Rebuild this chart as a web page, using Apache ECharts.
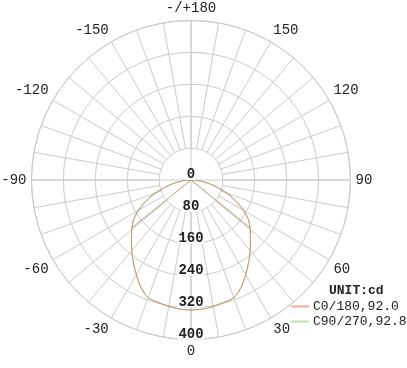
<!DOCTYPE html>
<html><head><meta charset="utf-8">
<script src="https://cdn.jsdelivr.net/npm/echarts@6/dist/echarts.min.js"></script>
<style>html,body{margin:0;padding:0;background:#fff}#c{width:407px;height:368px}</style>
</head><body><div id="c"></div>
<script>
// gamma angles (deg) for each half-plane
const gamma = [0,5,10,15,20,25,30,35,40,45,50,55,60,65,70,75,80,85,90];
// intensities (cd)
const c0  = [326,325,322,318,314,297,274,252,231,211,194,176,150,120,92,62,38,17,0];
const c180= [326,325,322,318,314,297,274,252,231,211,194,176,150,120,92,62,38,17,0];
const c90 = [326,325,322,318,314,297,274,252,231,211,194,177,154,126,98,67,42,20,0];
const c270= [326,325,322,318,314,297,274,252,231,211,194,177,154,126,98,67,42,20,0];
const seriesNames = ['C0/180,92.0','C90/270,92.8'];
const seriesColors = ['#e0705c','#8cc47c'];
const legendColors = ['#f4a9a0','#bfe3b6'];
const beamHalfAngle = 51;
const beamValue = [190, 190];
const radiusTicks = [0,80,160,240,320,400];
const angleLabelStep = 30;

function curve(left, right){
  const pts = [];
  for (let i = gamma.length-1; i >= 0; i--) pts.push([left[i], -gamma[i]]);
  for (let i = 1; i < gamma.length; i++) pts.push([right[i], gamma[i]]);
  return pts;
}
const grid = '#cbcbcb';
const ctr = [191,180];
const R = 159.5;
const inner = R * radiusTicks[1] / radiusTicks[radiusTicks.length-1];

const series = [];
const planes = [[c180,c0],[c270,c90]];
// draw green first, red on top (blend gives the tan overlap colour)
[1,0].forEach(k=>{
  const p = planes[k];
  const op = k===0 ? 0.6 : 0.9;
  series.push({name:seriesNames[k], type:'line', coordinateSystem:'polar', polarIndex:0, smooth:0.3,
    data:curve(p[0],p[1]), showSymbol:false, lineStyle:{width:1,color:seriesColors[k],opacity:op}, itemStyle:{color:seriesColors[k]}, z:3});
  [beamHalfAngle,-beamHalfAngle].forEach(a=>series.push({name:seriesNames[k], type:'line', coordinateSystem:'polar', polarIndex:0,
    data:[[0,a],[beamValue[k],a]], showSymbol:false, lineStyle:{width:1,color:seriesColors[k],opacity:op*0.8}, itemStyle:{color:seriesColors[k]}, z:3}));
});

const chart = echarts.init(document.getElementById('c'));
chart.setOption({
  animation:false,
  backgroundColor:'#fff',
  title:{text:'UNIT:cd', left:329, top:284, padding:0,
    textStyle:{fontFamily:'Liberation Mono', fontSize:13, fontWeight:'bold', color:'#222'}},
  legend:{data:seriesNames.map((n,i)=>({name:n, icon:'rect', itemStyle:{color:legendColors[i], opacity:1}})),
    orient:'vertical', left:291, top:300, itemWidth:18, itemHeight:2, itemGap:2, padding:0,
    textStyle:{fontFamily:'Liberation Mono', fontSize:13, color:'#222', padding:[0,0,0,-1]}},
  polar:[
    {center:ctr, radius:[0,R]},
    {center:ctr, radius:[inner,R]},
    {center:ctr, radius:[0,R]}
  ],
  angleAxis:[
    {polarIndex:0, type:'value', min:-180, max:180, interval:angleLabelStep, startAngle:90, clockwise:false,
      axisLine:{lineStyle:{color:grid,width:1}}, axisTick:{show:false}, splitLine:{show:false},
      axisLabel:{margin:5, fontFamily:'Liberation Mono', fontSize:14, color:'#222',
        formatter:v=> (Math.abs(v)===180 ? '-/+180' : String(v))}},
    {polarIndex:1, type:'value', min:-180, max:180, interval:10, startAngle:90, clockwise:false,
      axisLine:{show:false}, axisTick:{show:false}, axisLabel:{show:false},
      splitLine:{show:true, lineStyle:{color:grid,width:1}}},
    {polarIndex:2, type:'value', min:0, max:360, interval:90, startAngle:270, clockwise:false,
      axisLine:{show:false}, axisTick:{show:false}, axisLabel:{show:false},
      splitLine:{show:true, lineStyle:{color:grid,width:1}}}
  ],
  radiusAxis:[
    {polarIndex:0, type:'value', min:radiusTicks[0], max:radiusTicks[radiusTicks.length-1], interval:radiusTicks[1]-radiusTicks[0],
      axisLine:{show:false}, axisTick:{show:false}, axisLabel:{show:false},
      splitLine:{show:true, lineStyle:{color:grid,width:1}}},
    {polarIndex:1, type:'value', min:0, max:400, show:false},
    {polarIndex:2, type:'value', min:radiusTicks[0], max:radiusTicks[radiusTicks.length-1], interval:radiusTicks[1]-radiusTicks[0], z:6,
      axisLine:{show:false}, axisTick:{show:false}, splitLine:{show:false},
      axisLabel:{margin:0, align:'center', verticalAlign:'bottom', fontFamily:'Liberation Mono', fontSize:14, fontWeight:'bold',
        lineHeight:11, color:'#222', backgroundColor:'#fff', padding:[0,1,0,1]}}
  ],
  series:series
});
</script></body></html>
